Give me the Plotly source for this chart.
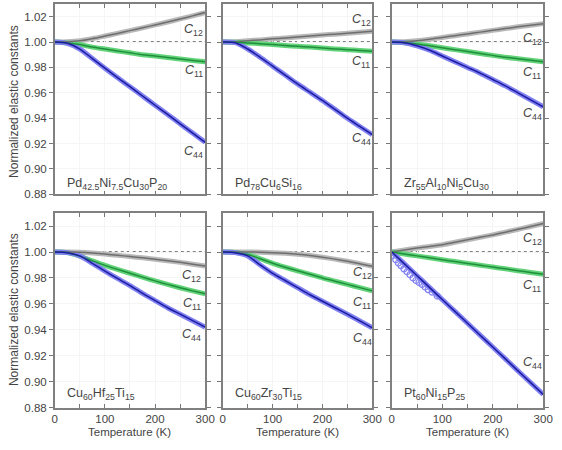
import plotly.graph_objects as go
from plotly.subplots import make_subplots

# ---------------- data ----------------
T = [0, 25, 50, 75, 100, 125, 150, 175, 200, 225, 250, 275, 300]

pd425_c12 = [1.000, 1.0002, 1.001, 1.0027, 1.0047, 1.0068, 1.009, 1.0112, 1.0135, 1.0158, 1.0182, 1.0206, 1.0232]
pd425_c11 = [1.000, 0.9993, 0.998, 0.996, 0.9945, 0.993, 0.9915, 0.990, 0.989, 0.9878, 0.9866, 0.9855, 0.9845]
pd425_c44 = [1.000, 0.999, 0.9945, 0.987, 0.9794, 0.972, 0.9648, 0.9575, 0.9502, 0.943, 0.9356, 0.9283, 0.921]

pd78_c12 = [1.000, 1.0003, 1.001, 1.0017, 1.0025, 1.0032, 1.004, 1.0047, 1.0055, 1.0062, 1.007, 1.0077, 1.0085]
pd78_c11 = [1.000, 0.9998, 0.9993, 0.9987, 0.998, 0.9973, 0.9966, 0.996, 0.9953, 0.9946, 0.994, 0.9933, 0.9927]
pd78_c44 = [1.000, 0.9995, 0.9945, 0.988, 0.981, 0.974, 0.967, 0.9605, 0.954, 0.947, 0.940, 0.9335, 0.927]

zr55_c12 = [1.000, 1.0002, 1.001, 1.0022, 1.0036, 1.005, 1.0064, 1.0078, 1.0092, 1.0106, 1.012, 1.0133, 1.0145]
zr55_c11 = [1.000, 0.9995, 0.9985, 0.997, 0.9955, 0.994, 0.9925, 0.991, 0.9895, 0.988, 0.9868, 0.9856, 0.9845]
zr55_c44 = [1.000, 0.9995, 0.997, 0.9935, 0.989, 0.9845, 0.980, 0.9755, 0.9705, 0.9655, 0.960, 0.9545, 0.949]

cuhf_c12 = [1.000, 1.000, 0.9998, 0.9992, 0.9984, 0.9975, 0.9965, 0.9955, 0.9944, 0.9932, 0.992, 0.9906, 0.9892]
cuhf_c11 = [1.000, 0.9995, 0.9968, 0.9932, 0.9897, 0.9866, 0.9836, 0.9806, 0.9777, 0.975, 0.9724, 0.970, 0.9677]
cuhf_c44 = [1.000, 0.9995, 0.997, 0.9913, 0.9853, 0.9796, 0.974, 0.968, 0.9625, 0.957, 0.952, 0.947, 0.942]

cuzr_c12 = [1.000, 1.000, 1.000, 0.9998, 0.9995, 0.999, 0.9983, 0.9973, 0.996, 0.9945, 0.9928, 0.991, 0.989]
cuzr_c11 = [1.000, 0.9997, 0.998, 0.9948, 0.9913, 0.9883, 0.9855, 0.9828, 0.980, 0.9775, 0.975, 0.9725, 0.970]
cuzr_c44 = [1.000, 0.9995, 0.997, 0.990, 0.9835, 0.978, 0.9725, 0.967, 0.962, 0.957, 0.952, 0.9468, 0.9415]

pt60_c12 = [1.000, 1.0015, 1.003, 1.0043, 1.0056, 1.0075, 1.0094, 1.0113, 1.0132, 1.0153, 1.0175, 1.0197, 1.022]
pt60_c11 = [1.000, 0.9985, 0.997, 0.9955, 0.994, 0.9926, 0.9912, 0.9898, 0.9884, 0.987, 0.9856, 0.9842, 0.9828]
pt60_c44 = [1.000, 0.9908, 0.9817, 0.9725, 0.9633, 0.9542, 0.945, 0.9358, 0.9267, 0.9175, 0.9083, 0.8992, 0.890]

# low-temperature scattered measured points of Pt60Ni15P25 C44
pt60_c44_meas_T = [3, 8, 13, 18, 24, 30, 36, 42, 48, 54, 60, 66, 72, 80, 90]
pt60_c44_meas = [0.9975, 0.994, 0.9915, 0.9895, 0.987, 0.9848, 0.9825, 0.980, 0.978, 0.9765,
                 0.975, 0.973, 0.971, 0.969, 0.966]

alloys = ["Pd<sub>42.5</sub>Ni<sub>7.5</sub>Cu<sub>30</sub>P<sub>20</sub>",
          "Pd<sub>78</sub>Cu<sub>6</sub>Si<sub>16</sub>",
          "Zr<sub>55</sub>Al<sub>10</sub>Ni<sub>5</sub>Cu<sub>30</sub>",
          "Cu<sub>60</sub>Hf<sub>25</sub>Ti<sub>15</sub>",
          "Cu<sub>60</sub>Zr<sub>30</sub>Ti<sub>15</sub>",
          "Pt<sub>60</sub>Ni<sub>15</sub>P<sub>25</sub>"]
alloy_y = [0.8885, 0.8885, 0.8885, 0.8905, 0.8905, 0.8905]

series = [
    (pd425_c12, pd425_c11, pd425_c44),
    (pd78_c12, pd78_c11, pd78_c44),
    (zr55_c12, zr55_c11, zr55_c44),
    (cuhf_c12, cuhf_c11, cuhf_c44),
    (cuzr_c12, cuzr_c11, cuzr_c44),
    (pt60_c12, pt60_c11, pt60_c44),
]

# label positions (T, value) for C12, C11, C44 in each panel
label_T = [277, 278, 278, 273, 280, 278]
label_c12 = [1.0095, 1.017, 1.0025, 0.9815, 0.9836, 1.010]
label_c11 = [0.977, 0.984, 0.9755, 0.960, 0.961, 0.974]
label_c44 = [0.9135, 0.9235, 0.943, 0.936, 0.933, 0.914]

x_ticks = [0, 50, 100, 150, 200, 250, 300]
x_ticktext = ["0", "", "100", "", "200", "", "300"]
y_ticks = [0.88, 0.90, 0.92, 0.94, 0.96, 0.98, 1.00, 1.02]

# ---------------- styling ----------------
FONT = "Liberation Sans, Arial, Helvetica, sans-serif"
TXT = "#444444"
band_cols = ["#b9b9b9", "#63d37a", "#8181f2"]
line_cols = ["#6e6e6e", "#1f8f3c", "#1c1ca0"]
labels = ["<i>C</i><sub>12</sub>", "<i>C</i><sub>11</sub>", "<i>C</i><sub>44</sub>"]

xdom = [[0.0943, 0.3683], [0.4004, 0.6726], [0.7082, 0.984]]
ydom = [[0.5622, 0.9911], [0.0822, 0.52]]

fig = make_subplots(rows=2, cols=3)

for i in range(6):
    r, c = i // 3 + 1, i % 3 + 1
    for k in range(3):
        fig.add_trace(go.Scatter(x=T, y=series[i][k], mode="lines",
                                 line=dict(color=band_cols[k], width=5, shape="spline", smoothing=0.8),
                                 hoverinfo="skip", showlegend=False), row=r, col=c)
    if i == 5:
        fig.add_trace(go.Scatter(x=pt60_c44_meas_T, y=pt60_c44_meas, mode="markers",
                                 marker=dict(symbol="circle-open", size=6, color=band_cols[2],
                                             line=dict(width=1.2)),
                                 hoverinfo="skip", showlegend=False), row=r, col=c)
    for k in range(3):
        fig.add_trace(go.Scatter(x=T, y=series[i][k], mode="lines",
                                 line=dict(color=line_cols[k], width=1.5, shape="spline", smoothing=0.8),
                                 hoverinfo="skip", showlegend=False), row=r, col=c)

    sfx = "" if i == 0 else str(i + 1)
    xref, yref = "x" + sfx, "y" + sfx
    fig.add_shape(type="line", xref=xref, yref=yref, x0=0, x1=300, y0=1.0, y1=1.0,
                  line=dict(color="#555555", width=1.5, dash="dot"), layer="below")

    for k, yv in enumerate([label_c12[i], label_c11[i], label_c44[i]]):
        fig.add_annotation(x=label_T[i], y=yv, xref=xref, yref=yref, text=labels[k],
                           showarrow=False, xanchor="center", yanchor="middle",
                           font=dict(family=FONT, size=12.5, color=TXT))
    fig.add_annotation(x=20, y=alloy_y[i], xref=xref, yref=yref, text=alloys[i],
                       showarrow=False, xanchor="left", yanchor="middle",
                       font=dict(family=FONT, size=12.5, color=TXT))

    fig.update_xaxes(row=r, col=c, domain=xdom[c - 1], range=[0, 300],
                     tickvals=x_ticks, ticktext=x_ticktext, ticks="inside", ticklen=4,
                     tickcolor="#777777", tickwidth=1, mirror="allticks", showline=True,
                     linecolor="#808080", linewidth=1.5, showgrid=True, gridcolor="#f5f5f5",
                     zeroline=False, showticklabels=(r == 2),
                     tickfont=dict(family=FONT, size=11.5, color=TXT))
    fig.update_yaxes(row=r, col=c, domain=ydom[r - 1], range=[0.88, 1.03],
                     tickvals=y_ticks, tickformat=".2f", ticks="outside", ticklen=4,
                     tickcolor="#777777", tickwidth=1, mirror="allticks", showline=True,
                     linecolor="#808080", linewidth=1.5, showgrid=True, gridcolor="#f5f5f5",
                     zeroline=False, showticklabels=(c == 1),
                     tickfont=dict(family=FONT, size=11.5, color=TXT))

# axis titles
for yc in [0.772, 0.3033]:
    fig.add_annotation(x=12 / 562, y=yc, xref="paper", yref="paper",
                       text="Normalized elastic constants", textangle=-90, showarrow=False,
                       xanchor="center", yanchor="middle",
                       font=dict(family=FONT, size=12, color=TXT))
for c in range(3):
    fig.add_annotation(x=(xdom[c][0] + xdom[c][1]) / 2, y=1 - 437.5 / 450,
                       xref="paper", yref="paper", text="Temperature (K)", showarrow=False,
                       xanchor="center", yanchor="middle",
                       font=dict(family=FONT, size=11.5, color=TXT))

fig.update_layout(width=562, height=450, margin=dict(l=0, r=0, t=0, b=0),
                  paper_bgcolor="white", plot_bgcolor="white",
                  font=dict(family=FONT, size=11, color=TXT), showlegend=False)

fig.write_html("out.html")
